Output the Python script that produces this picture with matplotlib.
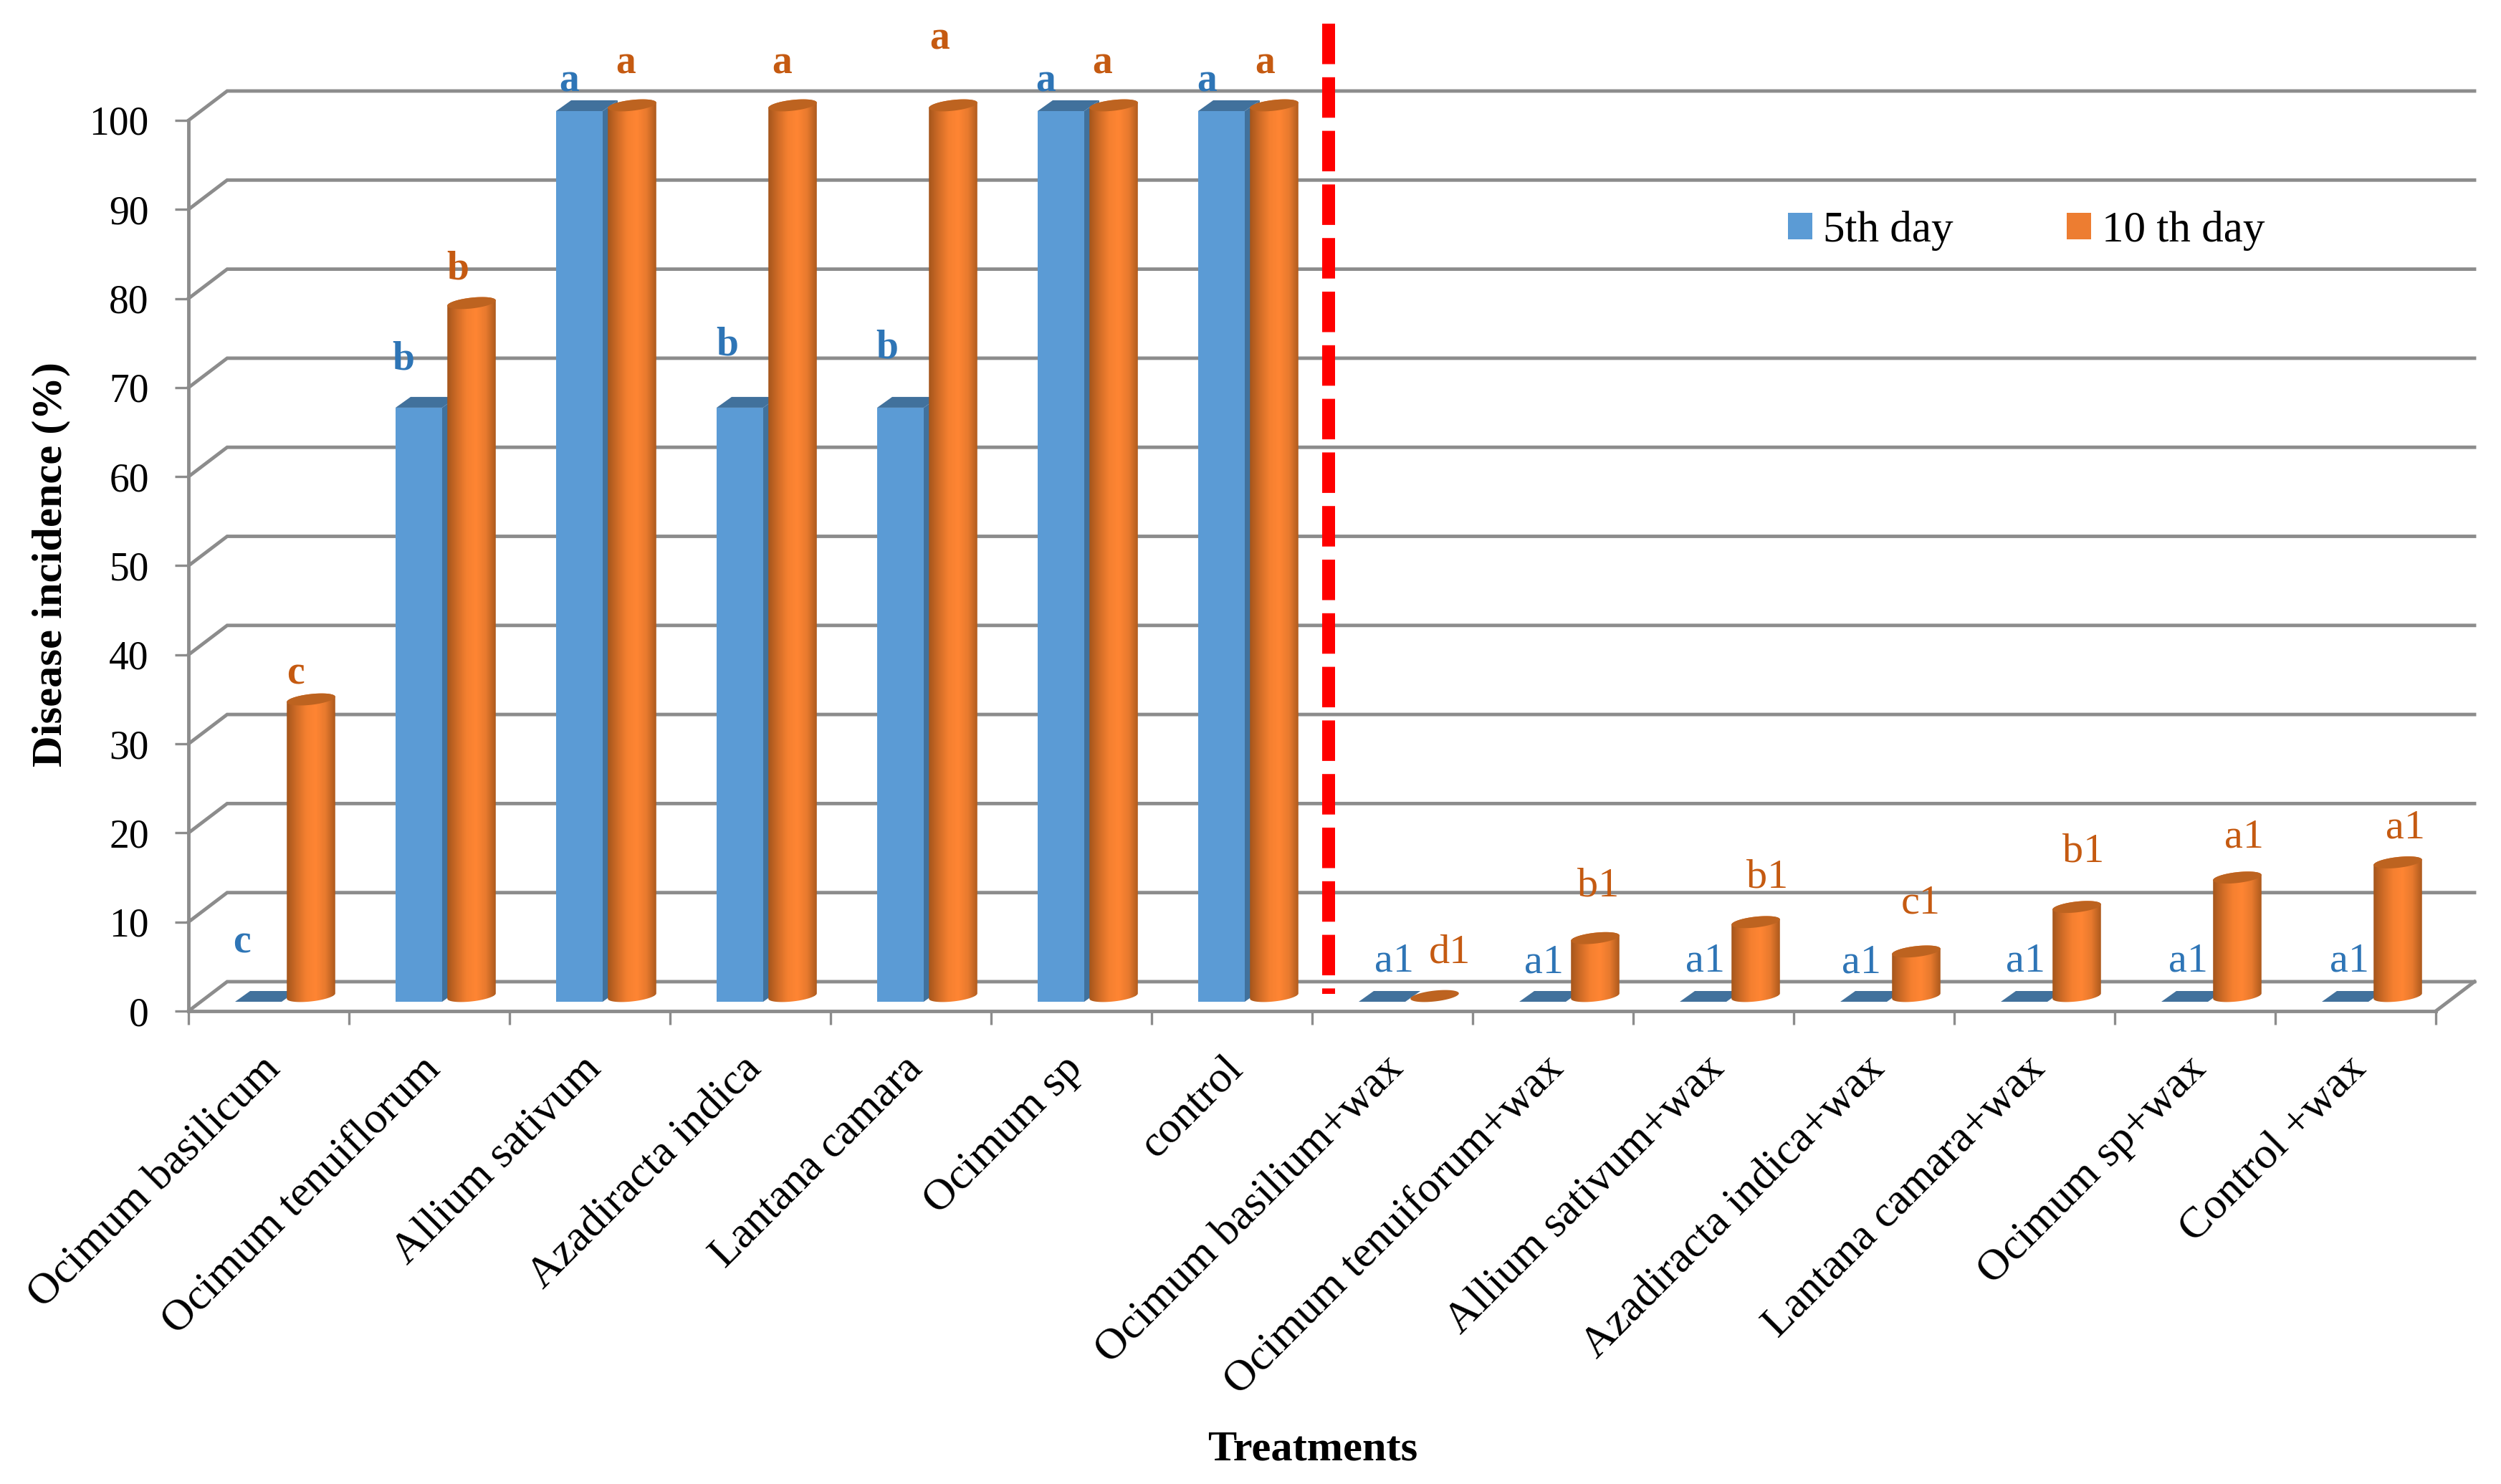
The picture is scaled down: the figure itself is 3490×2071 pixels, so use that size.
#!/usr/bin/env python3
# -*- coding: utf-8 -*-
import numpy as np
import matplotlib
matplotlib.use("Agg")
import matplotlib.pyplot as plt
from matplotlib.colors import LinearSegmentedColormap
from matplotlib.patches import Patch, PathPatch, Polygon
from matplotlib.path import Path
from matplotlib.transforms import ScaledTranslation

treatments = ["Ocimum basilicum", "Ocimum tenuiflorum", "Allium sativum", "Azadiracta indica",
              "Lantana camara", "Ocimum sp", "control", "Ocimum basilium+wax",
              "Ocimum tenuiforum+wax", "Allium sativum+wax", "Azadiracta indica+wax",
              "Lantana camara+wax", "Ocimum sp+wax", "Control +wax"]
day5 = [0, 66.7, 100, 66.7, 66.7, 100, 100, 0, 0, 0, 0, 0, 0, 0]
day10 = [33.3, 77.8, 100, 100, 100, 100, 100, 0, 6.5, 8.3, 5, 10, 13.3, 15]
letters5 = ["c", "b", "a", "b", "b", "a", "a", "a1", "a1", "a1", "a1", "a1", "a1", "a1"]
letters10 = ["c", "b", "a", "a", "a", "a", "a", "d1", "b1", "b1", "c1", "b1", "a1", "a1"]
yticks = list(range(0, 101, 10))

# label nudges from top of bar, in pixels
nudge5 = [(-23, 82), (-22, 67), (-14, 41), (-18, 87), (-19, 83), (-21, 41), (-20, 41),
          (17, 57), (2, 55), (3, 57), (-3, 55), (2, 57), (5, 57), (6, 57)]
nudge10 = [(-22, 36), (-19, 47), (-9, 58), (-15, 58), (-19, 92), (-16, 58), (-13, 58),
           (21, 60), (4, 73), (16, 62), (6, 67), (9, 77), (10, 56), (11, 48)]

W, H = 3490, 2071
X0, X1, Y0, Y100 = 263, 3399, 1411, 168
PX = (X1 - X0) / 14.0      # pixels per category
PY = (Y0 - Y100) / 100.0   # pixels per percent

GREY = "#8c8c8c"
BLUE, BLUE_DK = "#5b9bd5", "#41719c"
ORANGE, ORANGE_DK = "#ed7d31", "#bd6320"
serif = ["Liberation Serif", "DejaVu Serif"]
plt.rcParams["font.family"] = serif

# 3-D look, converted to data units
wall_dx, wall_dy = 54 / PX, 41 / PY
blue_off, blue_w = 65 / PX, 65 / PX
depth_dx, depth_dy = 21 / PX, 15 / PY
blue_base = 13 / PY
cyl_off, cyl_w = 137 / PX, 68 / PX
cyl_base = 21 / PY

fig = plt.figure(figsize=(W / 100, H / 100), dpi=100, facecolor="white")
ax = fig.add_axes([X0 / W, 1 - Y0 / H, (X1 - X0) / W, (Y0 - Y100) / H])
ax.patch.set_visible(False)

# back wall and floor
for v in yticks:
    ax.plot([0, wall_dx, 14 + wall_dx], [v, v + wall_dy, v + wall_dy], color=GREY, lw=3.5,
            clip_on=False, zorder=1, solid_joinstyle="miter")
ax.plot([14, 14 + wall_dx], [0, wall_dy], color=GREY, lw=3.5, clip_on=False, zorder=1)

gradient = LinearSegmentedColormap.from_list(
    "cyl", ["#a5561c", "#d06c27", "#f58030", "#ff8533", "#e87a2e", "#ad5a1d"])
shade = np.linspace(0, 1, 128).reshape(1, -1)


def tilted_ellipse(cx, cy, t):
    a, b, th = cyl_w / 2 * PX, 7.5, np.radians(6.5)
    ex = a * np.cos(t) * np.cos(th) - b * np.sin(t) * np.sin(th)
    ey = a * np.cos(t) * np.sin(th) + b * np.sin(t) * np.cos(th)
    return np.column_stack([cx + ex / PX, cy + ey / PY])


for i, (b5, b10) in enumerate(zip(day5, day10)):
    z = 3 + i * 0.1
    # square column for 5th day
    left = i + blue_off
    right = left + blue_w
    top = blue_base + b5
    ax.add_patch(Polygon([(right, blue_base), (right + depth_dx, blue_base + depth_dy),
                          (right + depth_dx, top + depth_dy), (right, top)],
                         fc=BLUE_DK, ec="none", zorder=z, clip_on=False))
    ax.add_patch(Polygon([(left, top), (left + depth_dx, top + depth_dy),
                          (right + depth_dx, top + depth_dy), (right, top)],
                         fc=BLUE_DK, ec="none", zorder=z, clip_on=False))
    ax.bar(left, b5, width=blue_w, bottom=blue_base, align="edge", color=BLUE, zorder=z, clip_on=False)

    # cylinder for 10th day
    z += 0.05
    cx = i + cyl_off + cyl_w / 2
    top = cyl_base + b10
    low = tilted_ellipse(cx, cyl_base, np.linspace(np.pi, 2 * np.pi, 40))
    high = tilted_ellipse(cx, top, np.linspace(0, np.pi, 40))
    outline = np.vstack([low, high, low[:1]])
    if b10 > 0:
        ax.bar(cx, b10, width=cyl_w * 0.9, bottom=cyl_base, color=ORANGE, zorder=z, clip_on=False)
        body = PathPatch(Path(outline), transform=ax.transData, fc="none", ec="none")
        im = ax.imshow(shade, cmap=gradient, aspect="auto", zorder=z,
                       extent=[cx - cyl_w / 2, cx + cyl_w / 2, cyl_base - 2, top + 2])
        im.set_clip_box(fig.bbox)
        im.set_clip_path(body)
    ax.add_patch(Polygon(tilted_ellipse(cx, top, np.linspace(0, 2 * np.pi, 60)),
                         fc=ORANGE_DK, ec="none", zorder=z + 0.01, clip_on=False))

    # significance letters
    bold = i < 7
    ax.annotate(letters5[i], xy=(left + blue_w / 2, blue_base + b5), xytext=nudge5[i],
                textcoords="offset pixels", ha="center", va="center", color="#2e75b6",
                fontsize=40 if bold else 42, fontweight="bold" if bold else "normal",
                annotation_clip=False, zorder=10)
    ax.annotate(letters10[i], xy=(cx, top), xytext=nudge10[i],
                textcoords="offset pixels", ha="center", va="center", color="#c55a11",
                fontsize=40 if bold else 42, fontweight="bold" if bold else "normal",
                annotation_clip=False, zorder=10)

# separator between plain and wax treatments
ax.plot([7.103, 7.103], [110.9, 1.93], color="#ff0000", lw=18 * 0.72, clip_on=False, zorder=6,
        solid_capstyle="butt", dash_capstyle="butt", dashes=(56.5 / 18, 18.3 / 18))

ax.set_xlim(0, 14)
ax.set_ylim(0, 100)
for name in ["top", "right"]:
    ax.spines[name].set_visible(False)
for name in ["left", "bottom"]:
    ax.spines[name].set_color(GREY)
    ax.spines[name].set_linewidth(3.5)
    ax.spines[name].set_zorder(2)

ax.set_yticks(yticks)
ax.tick_params(axis="y", length=13.7, width=2.4, color=GREY, pad=26, labelsize=40, labelcolor="black")
ax.set_xticks(range(15))
ax.set_xticklabels([])
ax.tick_params(axis="x", which="major", length=13.7, width=2.4, color=GREY)
ax.set_xticks(np.arange(14) + 0.5, minor=True)
ax.set_xticklabels(treatments, minor=True, rotation=45, ha="right", va="center",
                   rotation_mode="anchor", fontsize=44.5)
ax.tick_params(axis="x", which="minor", length=0, pad=52)
shift = ScaledTranslation(7 / 100, 0, fig.dpi_scale_trans)
for lab in ax.get_xticklabels(minor=True):
    lab.set_transform(lab.get_transform() + shift)

ax.set_ylabel("Disease incidence (%)", fontsize=43.5, fontweight="bold")
ax.yaxis.set_label_coords((71 - X0) / (X1 - X0), (Y0 - 788) / (Y0 - Y100))
ax.set_xlabel("Treatments", fontsize=43.5, fontweight="bold")
ax.xaxis.set_label_coords((1832 - X0) / (X1 - X0), -(2023 - Y0) / (Y0 - Y100))
ax.xaxis.label.set_va("center")
ax.yaxis.label.set_va("center")

ax.legend(handles=[Patch(fc=BLUE, label="5th day"), Patch(fc=ORANGE, label="10 th day")],
          ncol=2, frameon=False, fontsize=44, loc="center left",
          bbox_to_anchor=((2495 - X0) / PX, (Y0 - 322) / PY), bbox_transform=ax.transData,
          handlelength=0.55, handleheight=0.55, handletextpad=0.25, columnspacing=2.6,
          borderpad=0, borderaxespad=0)

fig.savefig("out.png", dpi=100)
